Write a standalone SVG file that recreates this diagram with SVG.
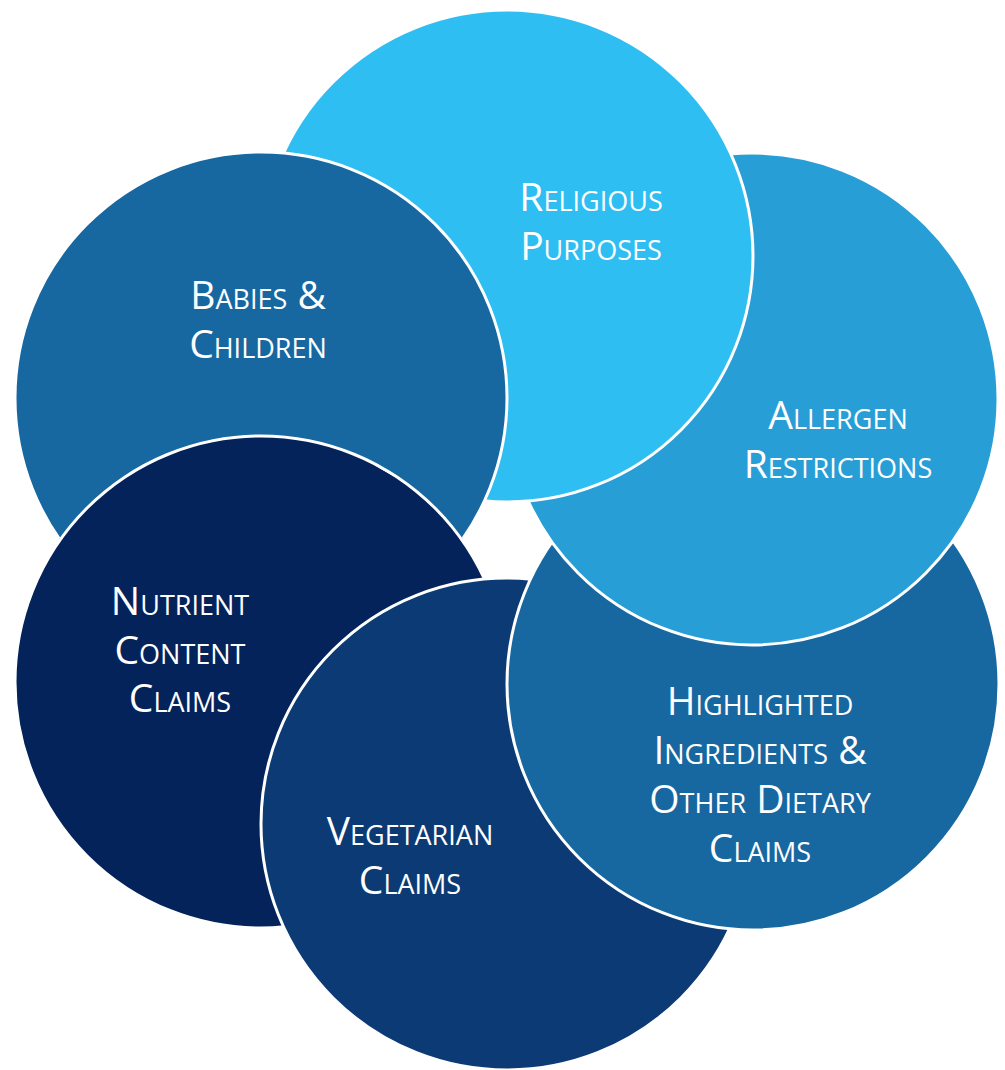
<svg xmlns="http://www.w3.org/2000/svg" width="1005" height="1070" viewBox="0 0 1005 1070">
  <style>
    .disc { stroke: #ffffff; stroke-width: 3; }
    .label { font-family: "Open Sans", "Liberation Sans", sans-serif; font-size: 39px; font-variant: small-caps; fill: #ffffff; text-anchor: middle; }
  </style>
  <defs>
    <!-- everything except the nutrient disc (and its rim), so the babies disc tucks under it -->
    <clipPath id="outside-nutrient">
      <path clip-rule="evenodd" d="M0 0H1005V1070H0Z M13.5 682a247.5 247.5 0 1 0 495 0a247.5 247.5 0 1 0 -495 0Z"/>
    </clipPath>
  </defs>
  <rect width="1005" height="1070" fill="#ffffff"/>

  <!-- discs laid out on a hexagonal ring around (507,540), each one over its clockwise neighbour -->
  <g id="nutrient-content-claims">
    <circle class="disc" cx="261" cy="682" r="246" fill="#03235A"/>
    <text class="label" x="180" y="615">Nutrient</text>
    <text class="label" x="180" y="664">Content</text>
    <text class="label" x="180" y="712">Claims</text>
  </g>

  <g id="vegetarian-claims">
    <circle class="disc" cx="507" cy="824" r="246" fill="#0B3A74"/>
    <text class="label" x="410" y="845">Vegetarian</text>
    <text class="label" x="410" y="894">Claims</text>
  </g>

  <g id="highlighted-ingredients">
    <circle class="disc" cx="753" cy="684" r="246" fill="#1767A1"/>
    <text class="label" x="760" y="715">Highlighted</text>
    <text class="label" x="760" y="764">Ingredients &amp;</text>
    <text class="label" x="760" y="813">Other Dietary</text>
    <text class="label" x="760" y="862">Claims</text>
  </g>

  <g id="allergen-restrictions">
    <circle class="disc" cx="752" cy="399" r="246" fill="#289ED6"/>
    <text class="label" x="838" y="429">Allergen</text>
    <text class="label" x="838" y="478">Restrictions</text>
  </g>

  <g id="religious-purposes">
    <circle class="disc" cx="507" cy="256" r="246" fill="#2FBEF2"/>
    <text class="label" x="591" y="211">Religious</text>
    <text class="label" x="591" y="260">Purposes</text>
  </g>

  <g id="babies-children">
    <circle class="disc" cx="261" cy="398" r="246" fill="#1767A1" clip-path="url(#outside-nutrient)"/>
    <text class="label" x="258" y="309">Babies &amp;</text>
    <text class="label" x="258" y="358">Children</text>
  </g>
</svg>
